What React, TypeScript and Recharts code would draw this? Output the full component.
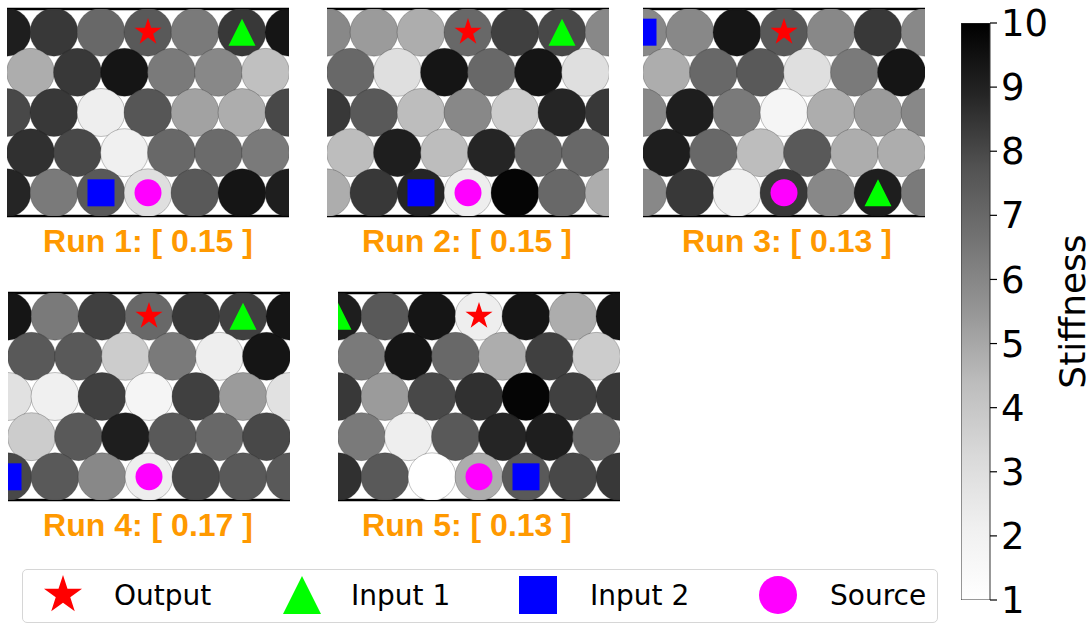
import React from 'react';
import { ScatterChart, Scatter, XAxis, YAxis, ReferenceLine, BarChart, Bar } from 'recharts';

// ---------- data ----------
const runNames = ['Run 1', 'Run 2', 'Run 3', 'Run 4', 'Run 5'];
const runScores = ['0.15', '0.15', '0.13', '0.17', '0.13'];

// stiffness per cell, rows top -> bottom (7,6,7,6,7 cells)
const run1Stiffness = [
  [9.2, 8.5, 7.1, 7.6, 6.5, 8.5, 9.5],
  [4.9, 8.5, 9.5, 6.5, 6.0, 4.3],
  [8.1, 8.5, 2.2, 7.7, 5.2, 4.9, 8.1],
  [8.7, 8.1, 2.1, 7.1, 7.0, 6.5],
  [9.0, 6.5, 7.6, 3.0, 7.6, 9.5, 9.2],
];
const run2Stiffness = [
  [6.0, 5.4, 4.9, 7.1, 8.3, 8.1, 6.0],
  [7.1, 3.0, 9.5, 7.1, 9.5, 3.0],
  [8.5, 7.6, 4.4, 6.0, 3.8, 9.0, 8.5],
  [4.4, 9.2, 4.4, 9.0, 7.1, 7.1],
  [4.9, 8.5, 9.0, 2.2, 10.0, 7.1, 4.9],
];
const run3Stiffness = [
  [6.0, 6.0, 9.5, 7.6, 6.0, 8.5, 6.0],
  [4.9, 7.1, 7.6, 3.0, 6.5, 9.5],
  [6.0, 9.2, 6.5, 1.75, 4.9, 5.4, 6.0],
  [9.2, 7.1, 4.4, 7.6, 4.9, 4.9],
  [6.0, 8.5, 2.1, 8.5, 6.0, 9.2, 6.5],
];
const run4Stiffness = [
  [9.5, 6.5, 8.3, 7.1, 8.5, 8.3, 9.5],
  [7.6, 7.6, 3.8, 6.5, 2.2, 9.5],
  [2.9, 2.1, 8.3, 1.75, 8.3, 5.4, 2.9],
  [3.8, 7.6, 9.2, 7.6, 7.1, 8.1],
  [8.1, 7.6, 6.0, 2.2, 8.1, 7.6, 7.6],
];
const run5Stiffness = [
  [9.2, 7.6, 9.5, 2.2, 9.5, 4.9, 9.5],
  [6.5, 9.5, 7.1, 4.9, 8.3, 3.8],
  [8.5, 5.4, 8.1, 8.7, 10.0, 8.3, 8.5],
  [6.5, 2.2, 7.6, 9.0, 9.2, 7.1],
  [8.7, 7.6, 1.0, 4.9, 7.6, 8.1, 8.5],
];
const runStiffness = [run1Stiffness, run2Stiffness, run3Stiffness, run4Stiffness, run5Stiffness];

// marker cells per run as [column, row]
const outputCells = [[3, 0], [3, 0], [3, 0], [3, 0], [3, 0]];
const input1Cells = [[5, 0], [5, 0], [5, 4], [5, 0], [0, 0]];
const input2Cells = [[2, 4], [2, 4], [0, 0], [0, 4], [4, 4]];
const sourceCells = [[3, 4], [3, 4], [3, 4], [3, 4], [3, 4]];

const xTicks = [0, 1, 2, 3, 4, 5, 6];
const yTicks = [0, 0.5, 1, 1.5, 2, 2.5, 3, 3.5];
const colorbarTicks = [1, 2, 3, 4, 5, 6, 7, 8, 9, 10];
const colorbarRange = [{ name: 'Stiffness', lo: 1, hi: 10 }];
const legendLabels = ['Output', 'Input 1', 'Input 2', 'Source'];

// ---------- helpers ----------
const GREYS = [255, 240, 217, 189, 150, 115, 82, 37, 0];
function greys(v: number) {
  const t = Math.min(1, Math.max(0, (v - 1) / 9));
  const p = t * 8;
  const i = Math.min(7, Math.floor(p));
  const f = p - i;
  const g = Math.round(GREYS[i] + (GREYS[i + 1] - GREYS[i]) * f);
  return `rgb(${g},${g},${g})`;
}
const ROW_H = Math.sqrt(3) / 2;
const NROWS = 5;
const cellX = (col: number, row: number) => (row % 2 === 0 ? col : col + 0.5);
const cellY = (row: number) => (NROWS - 1 - row) * ROW_H;
const Y_MIN = -0.5;
const Y_MAX = (NROWS - 1) * ROW_H + 0.5;

function starPath(cx: number, cy: number, ro: number) {
  const ri = ro * 0.382;
  let d = '';
  for (let k = 0; k < 10; k++) {
    const r = k % 2 === 0 ? ro : ri;
    const a = -Math.PI / 2 + (k * Math.PI) / 5;
    d += (k ? 'L' : 'M') + (cx + r * Math.cos(a)).toFixed(2) + ',' + (cy + r * Math.sin(a)).toFixed(2);
  }
  return d + 'Z';
}
function triPath(cx: number, cy: number, h: number) {
  return `M${cx},${cy - h}L${cx + h},${cy + h}L${cx - h},${cy + h}Z`;
}

const PLOT_W = 282;
const PLOT_H = 207;
const PAD = 12;
const TITLE_COLOR = 'rgb(255,153,0)';

const panelPos = [
  { left: 7, top: 9, titleX: 148 },
  { left: 327, top: 9, titleX: 467 },
  { left: 643, top: 9, titleX: 787 },
  { left: 8, top: 293, titleX: 148 },
  { left: 338, top: 293, titleX: 467 },
];

function Panel({ idx }: { idx: number }) {
  const grid = runStiffness[idx];
  const cells = grid.flatMap((rowVals, row) =>
    rowVals.map((v, col) => ({ x: cellX(col, row), y: cellY(row), v }))
  );
  const toPt = (c: number[]) => [{ x: cellX(c[0], c[1]), y: cellY(c[1]) }];
  const R = (PLOT_W / 6) * 0.51;
  const M = 13.5;
  const pos = panelPos[idx];
  return (
    <>
      <div style={{ position: 'absolute', left: pos.left - PAD, top: pos.top - PAD }}>
        <ScatterChart
          width={PLOT_W + 2 * PAD}
          height={PLOT_H + 2 * PAD}
          margin={{ top: PAD, right: PAD, bottom: 0, left: 0 }}
        >
          <XAxis
            type="number"
            dataKey="x"
            domain={[0, 6]}
            ticks={xTicks}
            allowDataOverflow
            tick={false}
            tickSize={4}
            axisLine={false}
            tickLine={{ stroke: '#999' }}
            height={PAD}
          />
          <YAxis
            type="number"
            dataKey="y"
            domain={[Y_MIN, Y_MAX]}
            ticks={yTicks}
            allowDataOverflow
            tick={false}
            tickSize={4}
            axisLine={false}
            tickLine={{ stroke: '#999' }}
            width={PAD}
          />
          <Scatter
            data={cells}
            isAnimationActive={false}
            shape={(p: any) => (
              <circle
                cx={p.cx}
                cy={p.cy}
                r={R}
                fill={greys(p.payload.v)}
                fillOpacity={0.98}
                stroke="#222"
                strokeOpacity={0.35}
                strokeWidth={0.8}
              />
            )}
          />
          <Scatter
            data={toPt(outputCells[idx])}
            isAnimationActive={false}
            shape={(p: any) => <path d={starPath(p.cx, p.cy, 14.2)} fill="#ff0000" />}
          />
          <Scatter
            data={toPt(input1Cells[idx])}
            isAnimationActive={false}
            shape={(p: any) => <path d={triPath(p.cx, p.cy, M)} fill="#00ff00" />}
          />
          <Scatter
            data={toPt(input2Cells[idx])}
            isAnimationActive={false}
            shape={(p: any) => <rect x={p.cx - M} y={p.cy - M} width={2 * M} height={2 * M} fill="#0000ff" />}
          />
          <Scatter
            data={toPt(sourceCells[idx])}
            isAnimationActive={false}
            shape={(p: any) => <circle cx={p.cx} cy={p.cy} r={M} fill="#ff00ff" />}
          />
          <ReferenceLine y={Y_MAX} stroke="#000" strokeWidth={2.6} />
          <ReferenceLine y={Y_MIN} stroke="#000" strokeWidth={2.6} />
        </ScatterChart>
      </div>
      <div
        style={{
          position: 'absolute',
          left: pos.titleX - 160,
          width: 320,
          top: pos.top + PLOT_H + 36 - 27,
          textAlign: 'center',
          fontFamily: '"Liberation Sans", Arial, sans-serif',
          fontWeight: 'bold',
          fontSize: 32,
          lineHeight: '32px',
          color: TITLE_COLOR,
          whiteSpace: 'pre',
        }}
      >
        {`${runNames[idx]}: [ ${runScores[idx]} ]`}
      </div>
    </>
  );
}

function Colorbar() {
  const cbTop = 23;
  const cbBottom = 600;
  const cbLeft = 961;
  const width = 1092 - cbLeft;
  return (
    <div style={{ position: 'absolute', left: cbLeft, top: 0 }}>
      <BarChart
        width={width}
        height={628}
        data={colorbarRange}
        margin={{ top: cbTop, right: 0, bottom: 628 - cbBottom, left: 0 }}
        barCategoryGap={0}
      >
        <XAxis dataKey="name" type="category" hide />
        <YAxis
          type="number"
          orientation="right"
          domain={[1, 10]}
          ticks={colorbarTicks}
          allowDataOverflow
          width={width - 29}
          axisLine={false}
          tickSize={7}
          tickMargin={4}
          tickLine={{ stroke: '#000', strokeWidth: 1.2 }}
          tick={{ fontSize: 37, fill: '#000', fontFamily: '"DejaVu Sans", sans-serif' }}
          label={{
            content: (props: any) => {
              const vb = props.viewBox || { x: 990, y: cbTop, width: 102, height: cbBottom - cbTop };
              const lx = vb.x + vb.width - 20;
              const ly = vb.y + vb.height / 2;
              return (
                <text
                  x={lx}
                  y={ly}
                  transform={`rotate(-90, ${lx}, ${ly})`}
                  textAnchor="middle"
                  dominantBaseline="central"
                  fontSize={36}
                  fontFamily='"DejaVu Sans", sans-serif'
                  fill="#000"
                >
                  Stiffness
                </text>
              );
            },
          }}
        />
        <Bar
          dataKey={(d: any) => [d.lo, d.hi]}
          fill="url(#greysGrad)"
          stroke="#333"
          strokeWidth={1}
          isAnimationActive={false}
        />
      </BarChart>
    </div>
  );
}

function LegendBox() {
  const cy = 26;
  const icons = [
    <path key="s" d={starPath(63, cy, 20)} fill="#ff0000" />,
    <path key="t" d={triPath(302, cy, 19)} fill="#00ff00" />,
    <rect key="q" x={538 - 19} y={cy - 19} width={38} height={38} fill="#0000ff" />,
    <circle key="c" cx={778} cy={cy} r={19} fill="#ff00ff" />,
  ];
  const textX = [114, 351, 590, 830];
  return (
    <div
      style={{
        position: 'absolute',
        left: 22,
        top: 569,
        width: 914,
        height: 52,
        border: '1px solid #d6d6d6',
        borderRadius: 5,
        background: '#fff',
      }}
    >
      <svg width={914} height={52} style={{ position: 'absolute', left: -1, top: -1, overflow: 'visible' }}>
        <g transform="translate(-22,0)">
          {icons}
          {legendLabels.map((l, i) => (
            <text
              key={l}
              x={textX[i]}
              y={cy}
              dominantBaseline="central"
              fontSize={28}
              fontFamily='"DejaVu Sans", sans-serif'
              fill="#000"
            >
              {l}
            </text>
          ))}
        </g>
      </svg>
    </div>
  );
}

export default function App() {
  return (
    <div
      style={{
        position: 'absolute',
        left: 0,
        top: 0,
        width: 1092,
        height: 628,
        overflow: 'hidden',
        background: '#fff',
      }}
    >
      <svg width={0} height={0} style={{ position: 'absolute' }}>
        <defs>
          <linearGradient id="greysGrad" x1="0" y1="0" x2="0" y2="1">
            {GREYS.map((_, i) => {
              const g = GREYS[8 - i];
              return <stop key={i} offset={`${i * 12.5}%`} stopColor={`rgb(${g},${g},${g})`} />;
            })}
          </linearGradient>
        </defs>
      </svg>
      {runNames.map((_, i) => (
        <Panel key={i} idx={i} />
      ))}
      <Colorbar />
      <LegendBox />
    </div>
  );
}
